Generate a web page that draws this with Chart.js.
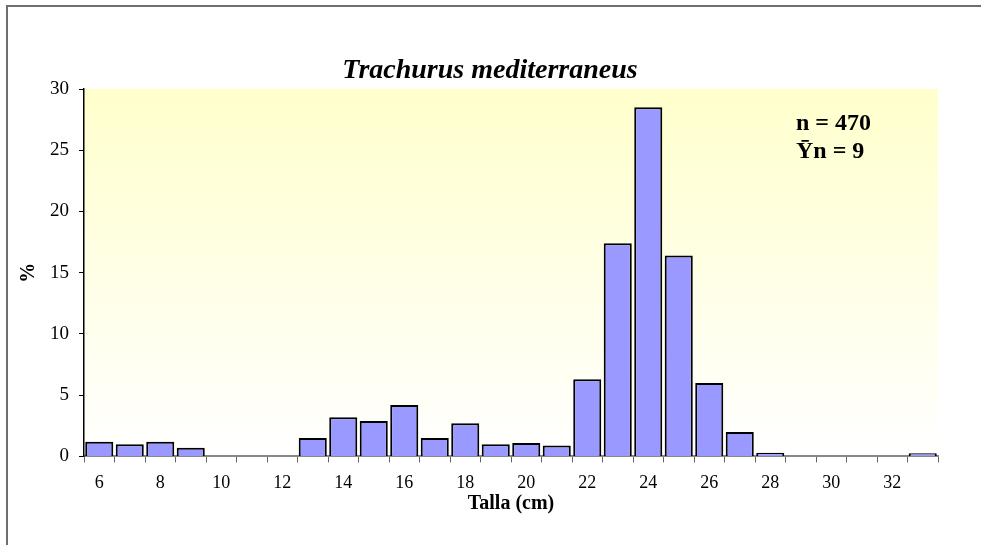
<!DOCTYPE html>
<html>
<head>
<meta charset="utf-8">
<script src="https://cdn.jsdelivr.net/npm/chart.js@4/dist/chart.umd.min.js"></script>
<style>
  html, body { margin: 0; padding: 0; background: #fff; }
  #wrap { width: 981px; height: 545px; position: relative; }
</style>
</head>
<body>
<div id="wrap"><canvas id="tallaChart"></canvas></div>
<script>
// Datos: distribución de tallas
const tallas = [6, 7, 8, 9, 10, 11, 12, 13, 14, 15, 16, 17, 18, 19, 20,
                21, 22, 23, 24, 25, 26, 27, 28, 29, 30, 31, 32, 33];
const porcentajes = [1.2, 1.0, 1.2, 0.7, 0, 0, 0, 1.5, 3.2, 2.9, 4.2, 1.5, 2.7, 1.0, 1.1,
                     0.9, 6.3, 17.4, 28.5, 16.4, 6.0, 2.0, 0.3, 0, 0, 0, 0, 0.25];
const yTicks = [0, 5, 10, 15, 20, 25, 30];
const titulo = 'Trachurus mediterraneus';
const anotaciones = ['n = 470', '\u0232n = 9'];

const serif = "'Liberation Serif', 'Times New Roman', serif";

// fondo degradado del área, marco exterior, título y anotación
const fondoPlugin = {
    id: 'fondo',
    beforeDraw(chart) {
        const { ctx, chartArea: a } = chart;
        ctx.save();
        const g = ctx.createLinearGradient(0, a.top, 0, a.bottom);
        g.addColorStop(0, '#FFFFCC');
        g.addColorStop(1, '#FFFFFF');
        ctx.fillStyle = g;
        ctx.fillRect(a.left, a.top, a.right - a.left, a.bottom - a.top);
        ctx.strokeStyle = '#6e6e6e';
        ctx.lineWidth = 2;
        ctx.beginPath();
        ctx.moveTo(7, 600);
        ctx.lineTo(7, 6);
        ctx.lineTo(990, 6);
        ctx.stroke();
        ctx.restore();
    },
    afterDraw(chart) {
        const { ctx } = chart;
        ctx.save();
        ctx.fillStyle = '#000';
        ctx.textBaseline = 'middle';
        ctx.textAlign = 'center';
        ctx.font = 'italic bold 28px ' + serif;
        ctx.fillText(titulo, 490, 71);
        ctx.textAlign = 'left';
        ctx.font = 'bold 24px ' + serif;
        ctx.fillText(anotaciones[0], 796, 124);
        ctx.fillText(anotaciones[1], 796, 152);
        ctx.restore();
    }
};

const ctx = document.getElementById('tallaChart').getContext('2d');
new Chart(ctx, {
    type: 'bar',
    data: {
        labels: tallas,
        datasets: [{
            data: porcentajes,
            backgroundColor: '#9999FF',
            borderColor: '#000000',
            borderWidth: 2,
            borderSkipped: 'bottom',
            barPercentage: 1,
            categoryPercentage: 0.92
        }]
    },
    options: {
        responsive: true,
        maintainAspectRatio: false,
        animation: false,
        layout: { padding: { left: 17, right: 43, top: 89, bottom: 29 } },
        plugins: {
            legend: { display: false },
            tooltip: { enabled: false },
            title: { display: false }
        },
        scales: {
            x: {
                grid: { display: true, drawOnChartArea: false, offset: true, tickLength: 6, color: '#888', tickColor: '#666' },
                border: { color: '#888', width: 2 },
                ticks: {
                    autoSkip: false,
                    maxRotation: 0,
                    color: '#000',
                    padding: 10,
                    font: { family: serif, size: 18 },
                    callback: function(v, i) { return i % 2 === 0 ? tallas[i] : ''; }
                },
                title: {
                    display: true,
                    text: 'Talla (cm)',
                    color: '#000',
                    font: { family: serif, size: 20, weight: 'bold' },
                    padding: { top: -12, bottom: 0 }
                }
            },
            y: {
                min: 0,
                max: 30,
                afterBuildTicks(axis) { axis.ticks = yTicks.map(v => ({ value: v })); },
                grid: { display: true, drawOnChartArea: false, tickLength: 5, tickColor: '#000' },
                border: { color: '#000', width: 1.5 },
                ticks: {
                    color: '#000',
                    padding: 10,
                    font: { family: serif, size: 19 }
                },
                title: {
                    display: true,
                    text: '%',
                    color: '#000',
                    font: { family: serif, size: 20, weight: 'bold' },
                    padding: { top: 0, bottom: -1 }
                }
            }
        }
    },
    plugins: [fondoPlugin]
});
</script>
</body>
</html>
